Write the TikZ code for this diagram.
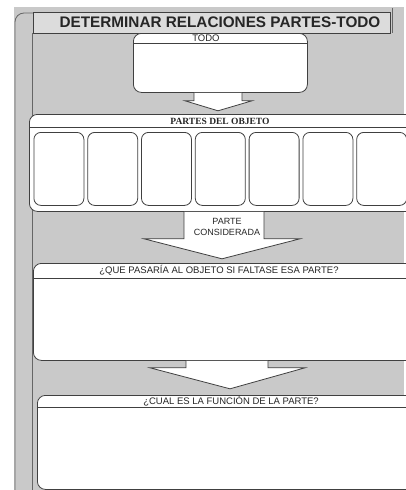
\documentclass[tikz,border=0pt]{standalone}
\usepackage{fontspec}
\setmainfont{Liberation Sans}
\newfontfamily\headserif{Liberation Serif}
\usetikzlibrary{calc, positioning}
\definecolor{paper}{HTML}{C9C9C9}
\definecolor{barfill}{HTML}{DCDCDC}
\definecolor{ink}{HTML}{404040}
\definecolor{print}{HTML}{262626}
\tikzset{
  card/.style={
    draw=ink, fill=white, rounded corners=8pt,
    line width=0.8pt, anchor=north west, inner sep=0pt,
  },
  partcell/.style={card, rounded corners=7pt,
                   minimum width=50pt, minimum height=73pt},
  hdrline/.style ={draw=ink, line width=0.7pt},
  hdrtext/.style ={font=\fontsize{9.5}{10}\selectfont, text=print, inner sep=0pt},
  blockarr/.style={draw=ink, fill=white, line width=0.8pt, line join=miter},
  frameline/.style={draw=ink!80, line width=0.8pt},
}

\begin{document}
\begin{tikzpicture}[x=1pt, y=-1pt]

\useasboundingbox (0,0) rectangle (406,490);
\clip (0,0) rectangle (406,490);
\fill[white] (0,0) rectangle (406,490);
\fill[paper] (14,7) rectangle (404,490);

%% ════════════════════════════════════════════════════════════
%%  FRAME AND TITLE
%% ════════════════════════════════════════════════════════════
\draw[frameline, rounded corners=9pt] (15,490) -- (15,13) -- (33,13);
\draw[frameline] (32,33) -- (32,490);
\draw[frameline] (392,8) -- (392,33);

\node[draw=ink, fill=barfill, line width=0.8pt, anchor=north west,
      minimum width=357pt, minimum height=21pt, inner sep=0pt]
  (titlebar) at (33,12) {};
\node[font=\bfseries\fontsize{15.3}{16}\selectfont, text=print, inner sep=0pt]
  (title) at (220,22) {DETERMINAR RELACIONES PARTES-TODO};

%% ════════════════════════════════════════════════════════════
%%  TODO
%% ════════════════════════════════════════════════════════════
\node[card, minimum width=174pt, minimum height=59pt] (todo) at (133,33) {};
\draw[hdrline] ($(todo.north west)+(0,10)$) -- ($(todo.north east)+(0,10)$);
\node[hdrtext] at (206,38) {TODO};

%% ════════════════════════════════════════════════════════════
%%  PARTES DEL OBJETO
%% ════════════════════════════════════════════════════════════
\node[card, minimum width=400pt, minimum height=97pt] (parts) at (29,114) {};
\draw[hdrline] ($(parts.north west)+(0,13)$) -- ($(parts.north east)+(0,13)$);
\node[hdrtext, font=\headserif\bfseries\fontsize{9.5}{10}\selectfont]
  at (220,121) {PARTES DEL OBJETO};

\foreach \i in {0,...,6}
  \node[partcell] (cell\i) at (33.5+53.8*\i,132) {};

%% ════════════════════════════════════════════════════════════
%%  ¿QUE PASARIA...?  /  ¿CUAL ES...?
%% ════════════════════════════════════════════════════════════
\node[card, minimum width=400pt, minimum height=97pt] (falta) at (33,263) {};
\draw[hdrline] ($(falta.north west)+(0,15)$) -- ($(falta.north east)+(0,15)$);
\node[hdrtext] at (219,270) {¿QUE PASARÍA AL OBJETO SI FALTASE ESA PARTE?};

\node[card, minimum width=400pt, minimum height=94pt] (funcion) at (37,395) {};
\draw[hdrline] ($(funcion.north west)+(0,12)$) -- ($(funcion.north east)+(0,12)$);
\node[hdrtext] at (231,401) {¿CUAL ES LA FUNCIÓN DE LA PARTE?};

%% ════════════════════════════════════════════════════════════
%%  BLOCK ARROWS
%% ════════════════════════════════════════════════════════════
% todo -> parts
\coordinate (a1) at (218,0 |- todo.south);
\draw[blockarr]
  ($(a1)+(-24,0)$) -- ++(0,8) -- ++(-9,0) -- ($(a1)+(0,18)$) --
  ($(a1)+(34,8)$) -- ($(a1)+(24,8)$) -- ($(a1)+(24,0)$);

% parts -> falta
\coordinate (a2) at (224,0 |- parts.south);
\draw[blockarr]
  ($(a2)+(-40,0)$) -- ++(0,27) -- ++(-40,0) -- ($(a2)+(-2,47)$) --
  ($(a2)+(76,27)$) -- ($(a2)+(40,27)$) -- ($(a2)+(40,0)$);
\node[font=\fontsize{9}{11}\selectfont, text=print, align=center, inner sep=0pt]
  (parte) at (227,227) {PARTE\\CONSIDERADA};

% falta -> funcion
\coordinate (a3) at (227,0 |- falta.south);
\draw[blockarr]
  ($(a3)+(-41,0)$) -- ++(0,7) -- ++(-36,0) -- ($(a3)+(3,28)$) --
  ($(a3)+(78,7)$) -- ($(a3)+(41,7)$) -- ($(a3)+(41,0)$);

\end{tikzpicture}
\end{document}
